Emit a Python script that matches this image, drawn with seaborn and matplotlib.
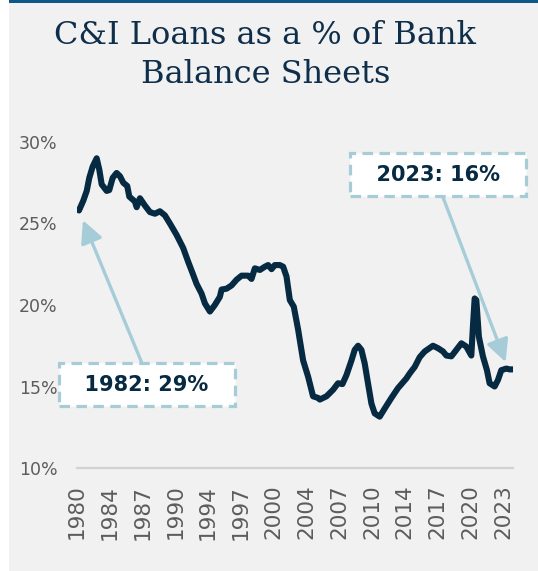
import matplotlib
matplotlib.use("Agg")
import matplotlib.pyplot as plt
from matplotlib.patches import Rectangle
import seaborn as sns
import pandas as pd

# C&I loans share of bank balance sheets (%), by fractional year
years = [1980.2, 1980.64, 1980.99, 1981.25, 1981.6, 1982.0, 1982.27, 1982.51, 1983.02, 1983.28,
         1983.63, 1984.03, 1984.37, 1984.71, 1985.11, 1985.32, 1985.89, 1986.07, 1986.4, 1986.91,
         1987.42, 1987.93, 1988.43, 1988.94, 1989.45, 1990.13, 1990.8, 1991.31, 1991.82, 1992.16,
         1992.67, 1993.01, 1993.52, 1994.02, 1994.53, 1994.71, 1995.21, 1995.72, 1996.23, 1996.74,
         1997.41, 1997.75, 1998.09, 1998.6, 1999.11, 1999.44, 1999.79, 2000.12, 2000.63, 2000.97,
         2001.31, 2001.65, 2002.05, 2002.49, 2003.0, 2003.51, 2004.01, 2004.52, 2004.7, 2005.38,
         2006.05, 2006.55, 2007.0, 2007.41, 2007.92, 2008.25, 2008.59, 2008.93, 2009.27, 2009.6,
         2009.95, 2010.28, 2010.79, 2011.3, 2011.98, 2012.65, 2013.51, 2013.84, 2014.35, 2014.86,
         2015.37, 2016.21, 2016.72, 2017.23, 2017.57, 2018.08, 2018.59, 2019.1, 2019.6, 2020.11,
         2020.27, 2020.45, 2020.62, 2020.88, 2021.29, 2021.7, 2021.97, 2022.48, 2022.82, 2023.16,
         2023.67, 2024.0, 2024.34]
share = [25.8, 26.4, 27.0, 27.8, 28.5, 29.0, 28.3, 27.4, 27.0, 27.05,
         27.8, 28.1, 27.9, 27.5, 27.3, 26.65, 26.35, 26.0, 26.55, 26.1,
         25.7, 25.6, 25.75, 25.5, 25.0, 24.3, 23.5, 22.65, 21.85, 21.3,
         20.7, 20.1, 19.6, 20.0, 20.5, 20.95, 21.0, 21.2, 21.55, 21.8,
         21.8, 21.6, 22.25, 22.15, 22.35, 22.45, 22.2, 22.45, 22.45, 22.35,
         21.75, 20.3, 19.9, 18.5, 16.6, 15.6, 14.4, 14.3, 14.2, 14.4,
         14.8, 15.2, 15.15, 15.7, 16.6, 17.25, 17.5, 17.25, 16.4, 15.2,
         13.95, 13.35, 13.15, 13.65, 14.3, 14.9, 15.5, 15.8, 16.2, 16.8,
         17.15, 17.5, 17.35, 17.15, 16.9, 16.85, 17.25, 17.65, 17.45, 16.9,
         18.65, 20.4, 20.3, 18.05, 16.85, 16.0, 15.2, 15.0, 15.4, 16.0,
         16.1, 16.05, 16.05]

tick_labels = ["1980", "1984", "1987", "1990", "1994", "1997", "2000",
               "2004", "2007", "2010", "2014", "2017", "2020", "2023"]
y_ticks = [10, 15, 20, 25, 30]

callouts = ["1982: 29%", "2023: 16%"]

NAVY = "#072a43"
LIGHT_BLUE = "#a6cdd7"
BG = "#f1f1f1"
GREY_TXT = "#5c5c5c"

sns.set_theme(style="white")
plt.rcParams["font.family"] = ["DejaVu Sans"]

df = pd.DataFrame({"year": years, "share": share})

fig = plt.figure(figsize=(5.38, 5.71), dpi=100, facecolor=BG)
W, H = 538, 571

# white strip on the left and a thin blue rule across the top
fig.patches.append(Rectangle((0, 0), 9 / W, 1, transform=fig.transFigure,
                             facecolor="white", edgecolor="none", zorder=0))
fig.patches.append(Rectangle((9 / W, 1 - 2.5 / H), 1, 2.5 / H, transform=fig.transFigure,
                             facecolor="#0d5886", edgecolor="none", zorder=1))

ax = fig.add_axes([77 / W, 1 - 468 / H, (513 - 77) / W, (468 - 142) / H])
ax.set_facecolor(BG)

sns.lineplot(data=df, x="year", y="share", ax=ax, color=NAVY, linewidth=4.4,
             solid_capstyle="round", solid_joinstyle="round")

ax.set_xlim(1980.0, 2024.35)
ax.set_ylim(10, 30)
ax.set_xticks([1980 + k * 10 / 3 for k in range(len(tick_labels))])
ax.set_xticklabels(tick_labels, rotation=90, fontsize=15.5, color=GREY_TXT)
ax.set_yticks(y_ticks)
ax.set_yticklabels([f"{v}%" for v in y_ticks], fontsize=12.5, color=GREY_TXT)
ax.tick_params(axis="both", length=0)
ax.tick_params(axis="y", pad=14)
ax.tick_params(axis="x", pad=12)
ax.set_xlabel("")
ax.set_ylabel("")
for side in ["top", "right", "left"]:
    ax.spines[side].set_visible(False)
ax.spines["bottom"].set_color("#d3d3d3")
ax.spines["bottom"].set_linewidth(1.6)
ax.grid(False)

box = dict(boxstyle="square,pad=0.55", facecolor="white", edgecolor=LIGHT_BLUE,
           linewidth=2.3, linestyle=(0, (3.3, 2.0)))

ax.annotate("  " + callouts[0] + "  ", xy=(1980.6, 25.2), xytext=(1987.1, 15.1),
            ha="center", va="center", fontsize=15, fontweight="bold", color=NAVY,
            bbox=box, annotation_clip=False,
            arrowprops=dict(arrowstyle="-|>,head_length=0.9,head_width=0.45",
                            color=LIGHT_BLUE, lw=2.4, relpos=(0.5, 1.0),
                            shrinkA=0, shrinkB=0))
ax.annotate("  " + callouts[1] + "  ", xy=(2023.6, 16.5), xytext=(2016.74, 28.0),
            ha="center", va="center", fontsize=15, fontweight="bold", color=NAVY,
            bbox=box, annotation_clip=False,
            arrowprops=dict(arrowstyle="-|>,head_length=0.9,head_width=0.45",
                            color=LIGHT_BLUE, lw=2.4, relpos=(0.5, 0.0),
                            shrinkA=0, shrinkB=0))

fig.text(0.493, 1 - 55 / H, "C&I Loans as a % of Bank\nBalance Sheets",
         ha="center", va="center", fontsize=23, color="#0f2e4a",
         family=["DejaVu Serif"], linespacing=1.3)

fig.savefig("out.png", dpi=100, facecolor=BG)
